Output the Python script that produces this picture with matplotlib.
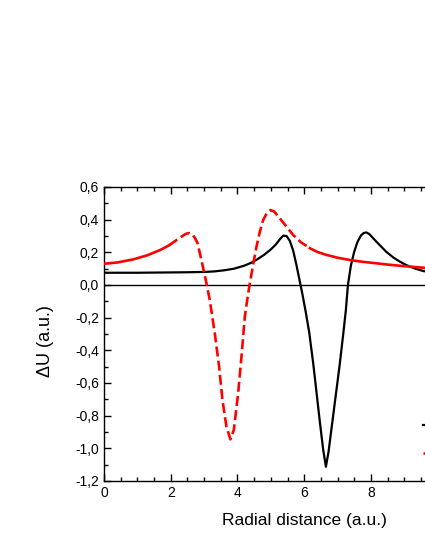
import matplotlib
matplotlib.use("Agg")
import matplotlib.pyplot as plt
import numpy as np
from matplotlib.ticker import MultipleLocator, FuncFormatter

plt.rcParams['font.family'] = ['Liberation Sans', 'DejaVu Sans']

# Black curve
black_x = [0.0, 0.5, 1.0, 1.5, 2.0, 2.5, 3.0, 3.3, 3.6, 3.9, 4.2, 4.4, 4.6, 4.8, 5.0,
           5.15, 5.27, 5.37, 5.47, 5.57, 5.67, 5.77, 5.87, 5.95, 6.05, 6.15, 6.27,
           6.37, 6.47, 6.57, 6.65, 6.73, 6.83, 6.93, 7.05, 7.17, 7.25, 7.31, 7.40,
           7.50, 7.60, 7.70, 7.78, 7.86, 7.95, 8.05, 8.15, 8.26, 8.45, 8.66, 8.85,
           9.06, 9.3, 9.56, 9.8, 10.0]
black_y = [0.075, 0.075, 0.075, 0.076, 0.077, 0.078, 0.080, 0.083, 0.090, 0.100, 0.118,
           0.135, 0.158, 0.185, 0.218, 0.248, 0.280, 0.302, 0.300, 0.270, 0.210, 0.120,
           0.020, -0.060, -0.170, -0.290, -0.480, -0.660, -0.840, -1.010, -1.113,
           -1.020, -0.860, -0.700, -0.510, -0.300, -0.150, 0.000, 0.120, 0.205,
           0.265, 0.303, 0.318, 0.322, 0.312, 0.290, 0.268, 0.245, 0.205, 0.170,
           0.145, 0.122, 0.102, 0.086, 0.076, 0.070]

# Red curve
red_x = [0.0, 0.4, 0.88, 1.3, 1.68, 1.95, 2.18, 2.35, 2.45, 2.55, 2.64, 2.72, 2.80,
         2.92, 3.05, 3.17, 3.32, 3.45, 3.55, 3.67, 3.79, 3.89, 4.02, 4.12, 4.22,
         4.30, 4.37, 4.47, 4.57, 4.67, 4.77, 4.88, 4.99, 5.10, 5.27, 5.45, 5.67,
         5.90, 6.17, 6.40, 6.67, 7.00, 7.37, 7.75, 8.16, 8.50, 8.86, 9.2, 9.56,
         9.8, 10.0]
red_y = [0.130, 0.138, 0.157, 0.182, 0.214, 0.243, 0.276, 0.300, 0.313, 0.318, 0.310,
         0.290, 0.258, 0.153, 0.030, -0.092, -0.296, -0.500, -0.704, -0.868, -0.945,
         -0.888, -0.663, -0.439, -0.194, -0.080, 0.010, 0.125, 0.235, 0.325, 0.398,
         0.440, 0.459, 0.450, 0.408, 0.362, 0.306, 0.262, 0.225, 0.202, 0.184,
         0.167, 0.153, 0.142, 0.133, 0.125, 0.118, 0.112, 0.106, 0.102, 0.099]

red_x = np.array(red_x)
red_y = np.array(red_y)

fig = plt.figure(figsize=(4.25, 5.5), dpi=100)
ax = fig.add_axes([104/425, 69/550, 322/425, 294/550])

ax.axhline(0, color='black', lw=1.0, zorder=1)
lb, = ax.plot(black_x, black_y, color='black', lw=1.6, zorder=3)

m_dash = (red_x >= 1.95) & (red_x <= 6.17)
m_left = red_x <= 1.95
m_right = red_x >= 6.17
lr, = ax.plot(red_x[m_dash], red_y[m_dash], color='#ff0000', lw=1.9, zorder=4,
              dashes=(3.8, 1.6))
ax.plot(red_x[m_left], red_y[m_left], color='#ff0000', lw=1.9, zorder=4)
ax.plot(red_x[m_right], red_y[m_right], color='#ff0000', lw=1.9, zorder=4)

ax.set_xlim(0, 9.65)
ax.set_ylim(-1.2, 0.6)
ax.xaxis.set_major_locator(MultipleLocator(2))
ax.xaxis.set_minor_locator(MultipleLocator(0.5))
ax.yaxis.set_major_locator(MultipleLocator(0.2))
ax.yaxis.set_minor_locator(MultipleLocator(0.1))

def yfmt(v, pos):
    s = f"{v:.1f}".replace('.', ',')
    if s == '-0,0':
        s = '0,0'
    return s

ax.yaxis.set_major_formatter(FuncFormatter(yfmt))
ax.xaxis.set_major_formatter(FuncFormatter(lambda v, p: f"{v:.0f}"))

ax.tick_params(which='both', direction='in', top=True, right=False, labelsize=10,
               width=1.0)
ax.tick_params(which='major', length=5)
ax.tick_params(which='minor', length=3)
for s in ax.spines.values():
    s.set_linewidth(1.0)
ax.spines['right'].set_visible(False)

ax.set_xlabel('Radial distance (a.u.)', fontsize=12.5)
ax.xaxis.set_label_coords(0.623, -0.11)
ax.set_ylabel('ΔU (a.u.)', fontsize=13, labelpad=15)
ax.yaxis.label.set_y(0.476)

leg = ax.legend([lb, lr], ['', ''], loc='upper left',
                bbox_to_anchor=(0.99, 0.2126), frameon=False, fontsize=10,
                borderpad=0, borderaxespad=0, labelspacing=1.0, handlelength=2)

fig.savefig('out.png', dpi=100)
